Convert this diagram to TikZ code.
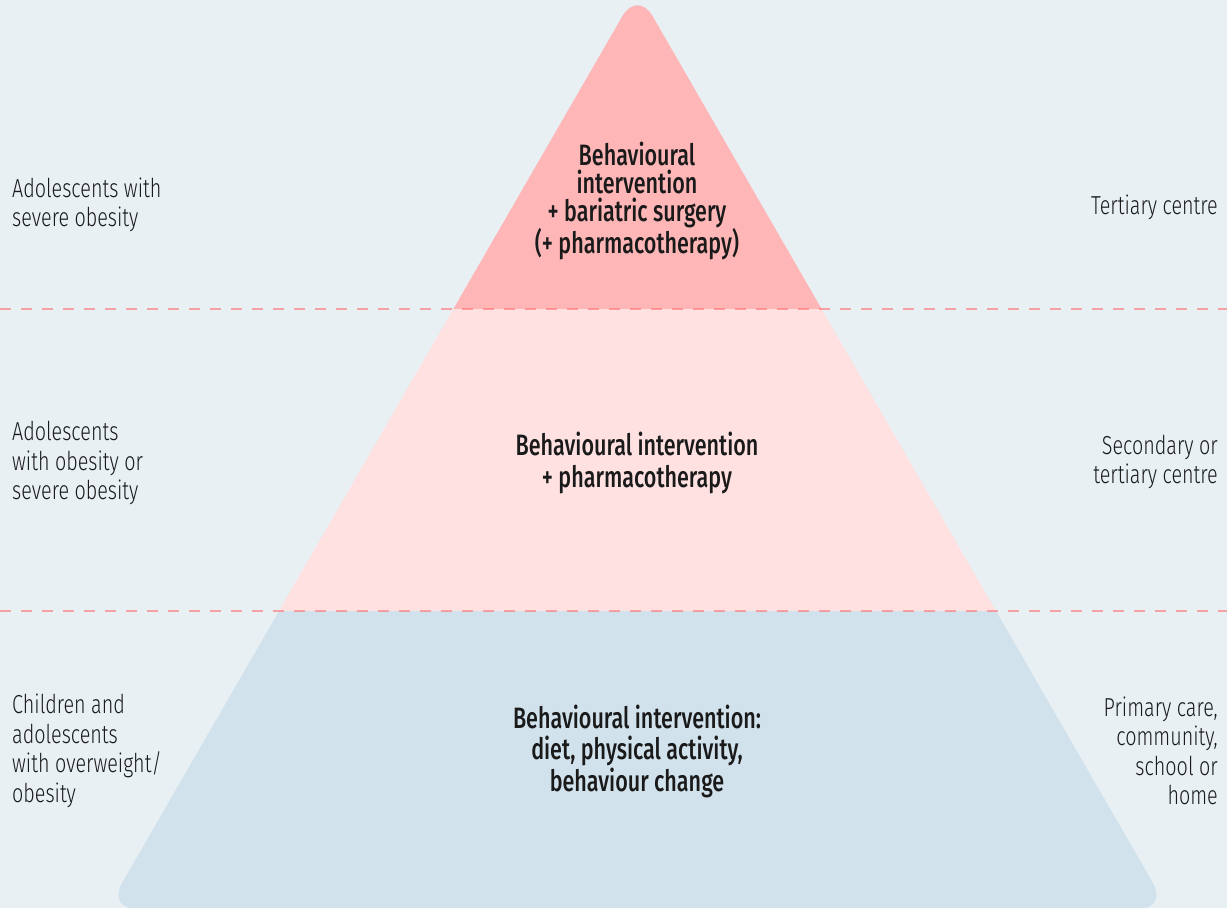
\documentclass[tikz,border=0pt]{standalone}
\usepackage{fontspec}
\setmainfont{Fira Sans}[FakeStretch=0.76]
\newfontfamily\sidefont{Fira Sans Light}[FakeStretch=0.76]
\newfontfamily\midfont{Fira Sans Medium}[FakeStretch=0.73]
\definecolor{bgc}{HTML}{E8F0F4}
\definecolor{topc}{HTML}{FFB6B7}
\definecolor{midc}{HTML}{FFE1E2}
\definecolor{botc}{HTML}{D1E2EC}
\definecolor{dashc}{HTML}{FF6F6F}
\definecolor{txt}{HTML}{1A1A1A}
\tikzset{
  sidel/.style={anchor=west, align=left, text=txt, inner sep=0pt, font=\sidefont\fontsize{26}{29.5}\selectfont},
  sider/.style={anchor=east, align=right, text=txt, inner sep=0pt, font=\sidefont\fontsize{26}{29.5}\selectfont},
  centre/.style={anchor=center, align=center, text=txt, inner sep=0pt, font=\midfont\fontsize{29.5}{31.5}\selectfont},
  centretop/.style={centre, font=\midfont\fontsize{29.5}{28}\selectfont},
  divider/.style={draw=dashc, draw opacity=0.6, line width=2pt, dash pattern=on 11pt off 10pt},
}
\begin{document}
\begin{tikzpicture}[x=1pt,y=-1pt]
\fill[bgc] (0,0) rectangle (1227,908);
\useasboundingbox (0,0) rectangle (1227,908);
\coordinate (apex) at (637.5,-10);
\coordinate (bl) at (107,909);
\coordinate (br) at (1168,909);
\coordinate (bm) at (637.5,909);
\begin{scope}
  \clip[rounded corners=30] (bm) -- (br) -- (apex) -- (bl) -- cycle;
  \fill[topc] (0,-20) rectangle (1227,309);
  \fill[midc] (0,309) rectangle (1227,611);
  \fill[botc] (0,611) rectangle (1227,930);
\end{scope}
\coordinate (d1a) at (0,309);
\coordinate (d1b) at (1227,309);
\coordinate (d2a) at (0,611);
\coordinate (d2b) at (1227,611);
\draw[divider] (d1a) -- (d1b);
\draw[divider] (d2a) -- (d2b);

\node[centretop] (c1) at (637,201) {Behavioural\\intervention\\+ bariatric surgery\\(+ pharmacotherapy)};
\node[centre] (c2) at (637,463) {Behavioural intervention\\+ pharmacotherapy};
\node[centre] (c3) at (637,751) {Behavioural intervention:\\diet, physical activity,\\behaviour change};

\node[sidel] (l1) at (12,205) {Adolescents with\\severe obesity};
\node[sidel] (l2) at (12,463) {Adolescents\\with obesity or\\severe obesity};
\node[sidel] (l3) at (12,751) {Children and\\adolescents\\with overweight/\\obesity};

\node[sider] (r1) at (1218,207) {Tertiary centre};
\node[sider] (r2) at (1218,462) {Secondary or\\tertiary centre};
\node[sider] (r3) at (1218,751) {Primary care,\\community,\\school or\\home};
\end{tikzpicture}
\end{document}
